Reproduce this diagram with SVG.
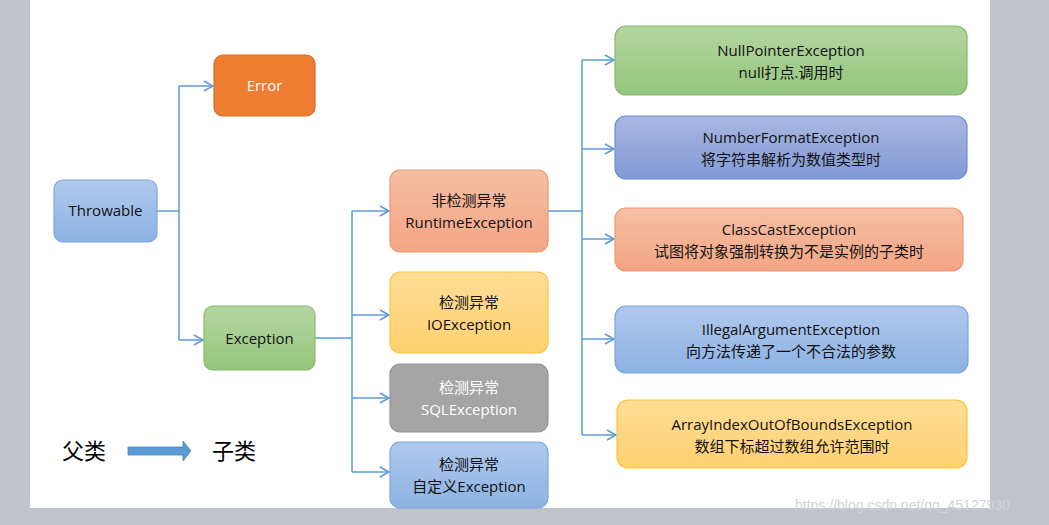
<svg xmlns="http://www.w3.org/2000/svg" width="1049" height="525" viewBox="0 0 1049 525">
<defs>
<style>
.n{stroke-width:1.2}
.t{font-family:"Open Sans","Noto Sans CJK SC",sans-serif;font-size:15px;text-anchor:middle;fill:#111}
.c{fill:none;stroke:#5b9bd5;stroke-width:1.5}
</style>
<marker id="a" markerWidth="12" markerHeight="12" refX="10" refY="6" orient="auto" markerUnits="userSpaceOnUse"><path d="M1,1 L10,6 L1,11" fill="none" stroke="#5b9bd5" stroke-width="1.5"/></marker>
<linearGradient id="gB" x1="0" y1="0" x2="0" y2="1"><stop offset="0" stop-color="#b0c9ed"/><stop offset="1" stop-color="#8db2e3"/></linearGradient>
<linearGradient id="gG" x1="0" y1="0" x2="0" y2="1"><stop offset="0" stop-color="#b3d5a2"/><stop offset="1" stop-color="#95c67c"/></linearGradient>
<linearGradient id="gS" x1="0" y1="0" x2="0" y2="1"><stop offset="0" stop-color="#f6bfa5"/><stop offset="1" stop-color="#f3a583"/></linearGradient>
<linearGradient id="gY" x1="0" y1="0" x2="0" y2="1"><stop offset="0" stop-color="#ffdd97"/><stop offset="1" stop-color="#ffd170"/></linearGradient>
<linearGradient id="gD" x1="0" y1="0" x2="0" y2="1"><stop offset="0" stop-color="#a9b8e2"/><stop offset="1" stop-color="#8099d6"/></linearGradient>
</defs>
<rect width="1049" height="525" fill="#c0c3ca"/>
<rect x="30" y="0" width="960" height="508" fill="#fff"/>
<g id="connectors">
<path class="c" d="M157,211 H179 M179,86 V340"/>
<path class="c" d="M179,86 H213" marker-end="url(#a)"/>
<path class="c" d="M179,340 H203" marker-end="url(#a)"/>
<path class="c" d="M315,338 H352 M352,211 V472"/>
<path class="c" d="M352,211 H389" marker-end="url(#a)"/>
<path class="c" d="M352,315 H389" marker-end="url(#a)"/>
<path class="c" d="M352,398 H389" marker-end="url(#a)"/>
<path class="c" d="M352,472 H389" marker-end="url(#a)"/>
<path class="c" d="M548,211 H582 M582,60 V435"/>
<path class="c" d="M582,60 H614" marker-end="url(#a)"/>
<path class="c" d="M582,149 H614" marker-end="url(#a)"/>
<path class="c" d="M582,239 H614" marker-end="url(#a)"/>
<path class="c" d="M582,339 H614" marker-end="url(#a)"/>
<path class="c" d="M582,435 H616" marker-end="url(#a)"/>
</g>
<g id="throwable"><rect class="n" x="54" y="180" width="103" height="62" rx="9" fill="url(#gB)" stroke="#7ea6dc"/><text class="t" x="105.5" y="216">Throwable</text></g>
<g id="error"><rect class="n" x="214" y="55" width="101" height="61" rx="9" fill="#ed7d31" stroke="#d9692a"/><text class="t" x="264.5" y="91" fill="#fff" style="fill:#fff">Error</text></g>
<g id="exception"><rect class="n" x="204" y="306" width="111" height="64" rx="9" fill="url(#gG)" stroke="#86bb6c"/><text class="t" x="259.5" y="344">Exception</text></g>
<g id="runtime"><rect class="n" x="390" y="170" width="158" height="82" rx="10" fill="url(#gS)" stroke="#f0976e"/><text class="t" x="469" y="206">非检测异常</text><text class="t" x="469" y="228">RuntimeException</text></g>
<g id="io"><rect class="n" x="390" y="272" width="158" height="81" rx="10" fill="url(#gY)" stroke="#fbc43c"/><text class="t" x="469" y="308">检测异常</text><text class="t" x="469" y="330">IOException</text></g>
<g id="sql"><rect class="n" x="390" y="364" width="158" height="68" rx="10" fill="#a5a5a5" stroke="#949494"/><text class="t" x="469" y="393" style="fill:#fff">检测异常</text><text class="t" x="469" y="415" style="fill:#fff">SQLException</text></g>
<g id="custom"><rect class="n" x="390" y="442" width="158" height="66" rx="10" fill="url(#gB)" stroke="#7ea6dc"/><text class="t" x="469" y="470">检测异常</text><text class="t" x="469" y="492">自定义Exception</text></g>
<g id="npe"><rect class="n" x="615" y="26" width="352" height="69" rx="11" fill="url(#gG)" stroke="#86bb6c"/><text class="t" x="791" y="56">NullPointerException</text><text class="t" x="791" y="78">null打点.调用时</text></g>
<g id="nfe"><rect class="n" x="615" y="116" width="352" height="63" rx="11" fill="url(#gD)" stroke="#6f8fd4"/><text class="t" x="791" y="143">NumberFormatException</text><text class="t" x="791" y="165">将字符串解析为数值类型时</text></g>
<g id="cce"><rect class="n" x="615" y="208" width="348" height="63" rx="11" fill="url(#gS)" stroke="#f0976e"/><text class="t" x="789" y="235">ClassCastException</text><text class="t" x="789" y="257">试图将对象强制转换为不是实例的子类时</text></g>
<g id="iae"><rect class="n" x="615" y="306" width="353" height="67" rx="11" fill="url(#gB)" stroke="#7ea6dc"/><text class="t" x="791" y="335">IllegalArgumentException</text><text class="t" x="791" y="357">向方法传递了一个不合法的参数</text></g>
<g id="aioobe"><rect class="n" x="617" y="400" width="350" height="68" rx="11" fill="url(#gY)" stroke="#fbc43c"/><text class="t" x="792" y="430">ArrayIndexOutOfBoundsException</text><text class="t" x="792" y="452">数组下标超过数组允许范围时</text></g>
<g id="legend">
<text x="62" y="459" font-family="'Noto Sans CJK SC',sans-serif" font-size="22" fill="#000">父类</text>
<path d="M128,447 H183 V441 L191,451 L183,461 V455 H128 Z" fill="#5b9bd5" stroke="#4a86c0" stroke-width="0.8"/>
<text x="212" y="459" font-family="'Noto Sans CJK SC',sans-serif" font-size="22" fill="#000">子类</text>
</g>
<text x="795" y="510" font-family="'Liberation Sans',sans-serif" font-size="14" fill="#d0d3da">https://blog.csdn.net/qq_45127930</text>
</svg>
